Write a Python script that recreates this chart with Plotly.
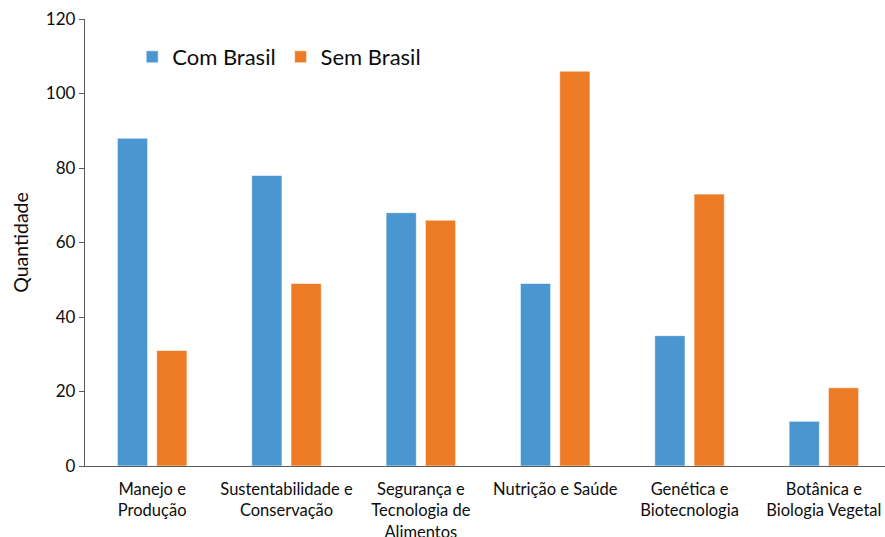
import plotly.graph_objects as go

categories = [
    "Manejo e<br>Produção",
    "Sustentabilidade e<br>Conservação",
    "Segurança e<br>Tecnologia de<br>Alimentos",
    "Nutrição e Saúde",
    "Genética e<br>Biotecnologia",
    "Botânica e<br>Biologia Vegetal",
]
com_brasil = [88, 78, 68, 49, 35, 12]
sem_brasil = [31, 49, 66, 106, 73, 21]

FONT = "Lato, Carlito, Calibri, sans-serif"
AXIS_COLOR = "#595959"
TEXT_COLOR = "#0d0d0d"

fig = go.Figure()
fig.add_trace(go.Bar(
    name="Com Brasil", x=categories, y=com_brasil,
    marker=dict(color="#4A96D0", line=dict(color="#ffffff", width=0.6)),
))
fig.add_trace(go.Bar(
    name="Sem Brasil", x=categories, y=sem_brasil,
    marker=dict(color="#ED7B25", line=dict(color="#ffffff", width=0.6)),
))

fig.update_layout(
    width=885, height=537,
    margin=dict(l=85, r=0, t=19, b=71),
    paper_bgcolor="white", plot_bgcolor="white",
    barmode="group", bargap=0.415, bargroupgap=0.23,
    font=dict(family=FONT, color=TEXT_COLOR),
    legend=dict(
        orientation="h", x=0.059, y=0.962, xanchor="left", yanchor="top",
        font=dict(size=22, family=FONT, color=TEXT_COLOR),
        bgcolor="rgba(0,0,0,0)", itemwidth=30, traceorder="normal",
    ),
    showlegend=True,
)
fig.update_xaxes(
    range=[-0.5, 5.455], automargin=False,
    showline=True, linecolor=AXIS_COLOR, linewidth=1.3,
    ticks="", tickfont=dict(size=16.5, family=FONT, color=TEXT_COLOR),
    ticklabelstandoff=8, showgrid=False,
)
fig.update_yaxes(
    range=[0, 120], dtick=20, automargin=False,
    showline=True, linecolor=AXIS_COLOR, linewidth=1.3,
    ticks="outside", ticklen=5, tickcolor=AXIS_COLOR,
    tickfont=dict(size=17, family=FONT, color=TEXT_COLOR),
    showgrid=False, zeroline=False,
    title=dict(text="Quantidade", font=dict(size=19.5, family=FONT, color=TEXT_COLOR),
               standoff=12),
)

fig.write_html("out.html")
